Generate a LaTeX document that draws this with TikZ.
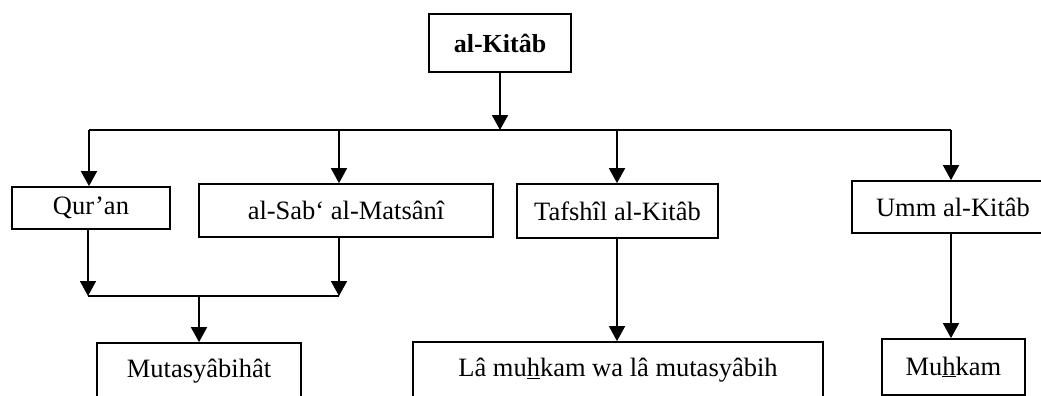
\documentclass[tikz,border=0pt]{standalone}
\usepackage{fontspec}
\setmainfont{Liberation Serif}
\usepackage{tikz}
\usetikzlibrary{arrows.meta,positioning,calc}

\begin{document}
\begin{tikzpicture}[x=1pt,y=-1pt,
  kotak/.style={draw,line width=1.7pt,inner sep=0pt,font=\fontsize{26.5}{30}\selectfont},
  panah/.style={line width=1.7pt,-{Triangle[width=16pt,length=15pt]}},
  garis/.style={line width=1.7pt}]
  \useasboundingbox (0,0) rectangle (1041,396);
  \clip (0,0) rectangle (1041,396);
  % kotak atas
  \node[kotak,minimum width=142pt,minimum height=58pt,font=\fontsize{26}{30}\selectfont\bfseries] (kitab) at (500,43) {al-Kitâb};
  % baris tengah
  \node[kotak,minimum width=158pt,minimum height=42pt] (quran) at (91,208) {Qur’an};
  \node[kotak,minimum width=294pt,minimum height=53pt] (sab) at (346,210.5) {al-Sab‘ al-Matsânî};
  \node[kotak,minimum width=201pt,minimum height=54pt] (tafshil) at (617.5,211) {Tafshîl al-Kitâb};
  \node[kotak,minimum width=202pt,minimum height=52pt] (umm) at (953,207) {Umm al-Kitâb};
  % baris bawah
  \node[kotak,minimum width=204pt,minimum height=56pt] (mutasy) at (199,371) {Mutasyâbihât};
  \node[kotak,minimum width=410pt,minimum height=56pt] (la) at (618,370) {Lâ mu\underline{h}kam wa lâ mutasyâbih};
  \node[kotak,minimum width=143pt,minimum height=56pt] (muhkam) at (953.5,367) {Mu\underline{h}kam};
  % cabang
  \coordinate (b1) at (89,130);
  \coordinate (b2) at (339,130);
  \coordinate (b3) at (617,130);
  \coordinate (b4) at (951,130);
  \draw[panah] (kitab.south) -- (kitab.south |- b1);
  \draw[garis] (b1) -- (b4);
  \draw[panah] (b1) -- (b1 |- quran.north);
  \draw[panah] (b2) -- (b2 |- sab.north);
  \draw[panah] (b3) -- (b3 |- tafshil.north);
  \draw[panah] (b4) -- (b4 |- umm.north);
  % gabung ke mutasyabihat
  \coordinate (j1) at (88,296);
  \coordinate (j2) at (339,296);
  \coordinate (j3) at (199,296);
  \draw[panah] (j1 |- quran.south) -- (j1);
  \draw[panah] (j2 |- sab.south) -- (j2);
  \draw[garis] (j1) -- (j2);
  \draw[panah] (j3) -- (mutasy.north);
  % ke bawah
  \draw[panah] (b3 |- tafshil.south) -- (b3 |- la.north);
  \draw[panah] (b4 |- umm.south) -- (b4 |- muhkam.north);
\end{tikzpicture}
\end{document}
